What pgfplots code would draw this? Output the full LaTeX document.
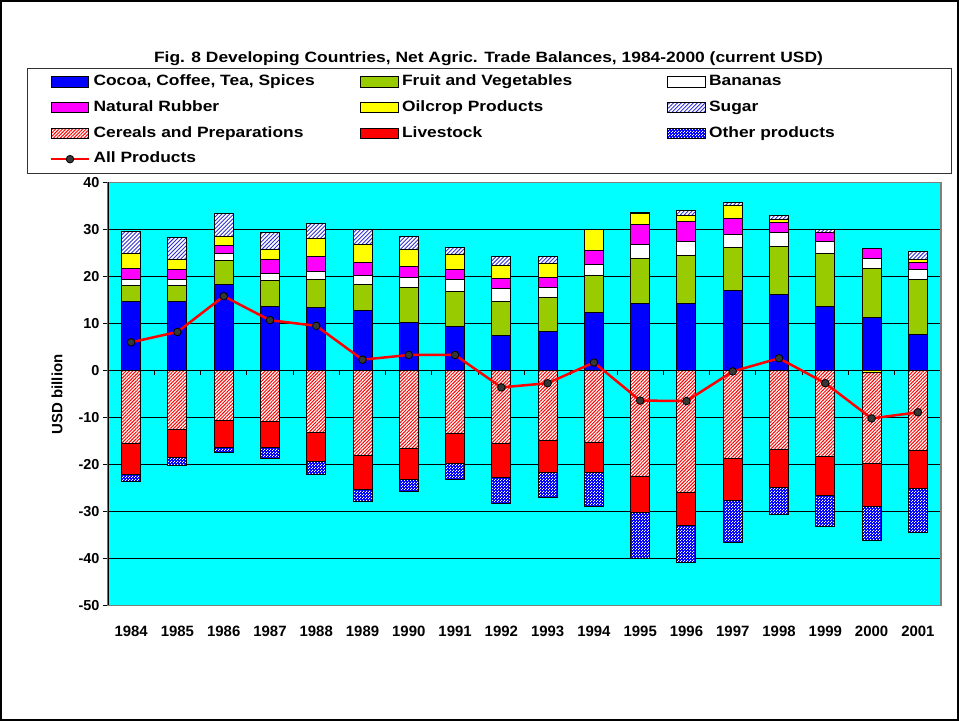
\documentclass[border=0pt]{standalone}
\usepackage{graphicx}
\usepackage{fontspec}
\setmainfont{Liberation Sans}
\usepackage{pgfplots}
\pgfplotsset{compat=1.18}
\usepackage{pgfplotstable}
\usetikzlibrary{patterns,patterns.meta}

\definecolor{cocoa}{RGB}{0,0,255}
\definecolor{fruit}{RGB}{153,204,0}
\definecolor{rubber}{RGB}{255,0,255}
\definecolor{oil}{RGB}{255,255,0}
\definecolor{live}{RGB}{255,0,0}
\definecolor{plotbg}{RGB}{0,255,255}
\definecolor{dotgray}{RGB}{55,55,55}
\definecolor{hatchblue}{RGB}{50,50,210}

\newcommand\lbl{\fontsize{15}{18}\selectfont\bfseries}
\newcommand\tl{\fontsize{14.5}{17}\selectfont\bfseries}
\newcommand\wide[1]{\scalebox{1.165}[1]{#1}}

% small white checks laid over blue for "Other products"
\pgfdeclarepatternformonly{finecheck}{\pgfqpoint{0bp}{0bp}}{\pgfqpoint{2.6bp}{2.6bp}}{\pgfqpoint{2.6bp}{2.6bp}}{%
  \pgfpathrectangle{\pgfqpoint{0bp}{0bp}}{\pgfqpoint{1.1bp}{1.1bp}}%
  \pgfpathrectangle{\pgfqpoint{1.3bp}{1.3bp}}{\pgfqpoint{1.1bp}{1.1bp}}%
  \pgfusepath{fill}}

% positive components, USD billion
\pgfplotstableread{
x cocoa fruit banana rubber oil sugar
0 14.6 3.4 1.3 2.4 3.2 4.7
1 14.6 3.4 1.3 2.2 2.1 4.8
2 18.3 5.0 1.6 1.8 1.9 4.8
3 13.7 5.5 1.5 3.0 2.1 3.6
4 13.5 5.8 1.7 3.2 3.8 3.2
5 12.7 5.6 1.9 2.8 3.8 3.1
6 10.2 7.5 2.1 2.3 3.7 2.8
7 9.4 7.4 2.5 2.2 3.1 1.6
8 7.5 7.1 2.8 2.1 2.9 1.9
9 8.3 7.3 2.1 2.1 2.9 1.6
10 12.4 7.9 2.3 3.0 4.3 0
11 14.3 9.6 2.9 4.3 2.2 0.4
12 14.3 10.2 2.9 4.4 1.2 1.0
13 17.1 9.1 2.7 3.4 2.7 0.8
14 16.1 10.3 2.9 2.2 0.7 0.8
15 13.7 11.2 2.5 2.0 0 0.7
16 11.2 10.5 2.2 2.0 0 0
17 7.7 11.6 2.2 1.5 0.6 1.7
}\pos

% negative components and the total
\pgfplotstableread{
x oilneg cereals livestock other all
0 0 -15.6 -6.6 -1.5 6.0
1 0 -12.6 -5.9 -1.8 8.2
2 0 -10.7 -5.6 -1.2 15.8
3 0 -10.9 -5.4 -2.5 10.7
4 0 -13.2 -6.2 -2.8 9.5
5 0 -18.1 -7.2 -2.6 2.3
6 0 -16.6 -6.5 -2.6 3.3
7 0 -13.4 -6.3 -3.4 3.3
8 0 -15.6 -7.2 -5.4 -3.6
9 0 -15.0 -6.6 -5.5 -2.7
10 0 -15.3 -6.4 -7.2 1.7
11 0 -22.5 -7.8 -9.7 -6.4
12 0 -26.0 -7.0 -7.9 -6.5
13 0 -18.8 -8.8 -9.0 -0.2
14 0 -16.9 -8.0 -5.8 2.6
15 0 -18.2 -8.4 -6.5 -2.7
16 -0.5 -19.3 -9.2 -7.2 -10.2
17 0 -17.1 -8.1 -9.2 -8.9
}\neg

\pgfplotsset{
  base/.style={scale only axis, width=833bp, height=423bp,
    xmin=-0.5, xmax=17.5, ymin=-50, ymax=40,
    at={(0,0)}, anchor=south west, enlargelimits=false},
  bar/.style={draw=black, line width=1bp},
  sugarp/.style={bar, fill=white, postaction={pattern={Lines[angle=45,distance=2.8bp,line width=0.9bp]}, pattern color=hatchblue}},
  cerealp/.style={bar, fill=white, postaction={pattern={Lines[angle=45,distance=2.4bp,line width=1bp]}, pattern color=red}},
  otherp/.style={bar, fill=blue, postaction={pattern=finecheck, pattern color=white}},
  boxleg/.style={legend image code/.code={\draw[##1] (0bp,-5.3bp) rectangle (37.5bp,5.3bp);}},
  lineleg/.style={legend image code/.code={\draw[mark repeat=2, mark phase=2, ##1] plot coordinates {(0bp,0bp) (18.75bp,0bp) (37.5bp,0bp)};}},
}

\begin{document}
\begin{tikzpicture}[x=1bp,y=1bp]
\useasboundingbox (-108,-115.5) rectangle (851,605.5);

\begin{axis}[base,
  axis background/.style={fill=plotbg},
  ybar stacked, bar width=19bp,
  axis line style={draw=gray, line width=1.5bp},
  ymajorgrids, grid style={black, line width=0.7bp},
  ytick={-50,-40,...,40}, ytick pos=left,
  xtick={0,...,17},
  xticklabels={1984,1985,1986,1987,1988,1989,1990,1991,1992,1993,1994,1995,1996,1997,1998,1999,2000,2001},
  xtick style={draw=none},
  ytick style={black, line width=1bp},
  tick align=outside, major tick length=5bp,
  ticklabel style={font=\tl},
  /pgf/number format/assume math mode=true,
  xticklabel style={font=\lbl, yshift=-12bp},
  ylabel={USD billion},
  every axis y label/.style={at={(axis description cs:-0.0612,0.499)}, rotate=90, anchor=center, font=\lbl},
]
\addplot[bar, fill=cocoa] table[x=x, y=cocoa] {\pos};
\addplot[bar, fill=fruit] table[x=x, y=fruit] {\pos};
\addplot[bar, fill=white] table[x=x, y=banana] {\pos};
\addplot[bar, fill=rubber] table[x=x, y=rubber] {\pos};
\addplot[bar, fill=oil] table[x=x, y=oil] {\pos};
\addplot[sugarp] table[x=x, y=sugar] {\pos};
\pgfplotsinvokeforeach{0,...,16}{
  \draw[black, line width=1bp] (axis cs:#1+0.5,0) -- ++(0pt,-5bp);
}
\draw[black, line width=1.2bp] (rel axis cs:0,0) -- (rel axis cs:0,1);
\end{axis}

\begin{axis}[base, hide axis, ybar stacked, bar width=19bp]
\addplot[bar, fill=oil] table[x=x, y=oilneg] {\neg};
\addplot[cerealp] table[x=x, y=cereals] {\neg};
\addplot[bar, fill=live] table[x=x, y=livestock] {\neg};
\addplot[otherp] table[x=x, y=other] {\neg};
\end{axis}

\begin{axis}[base, hide axis, boxleg,
  legend columns=3,
  legend style={at={(axis description cs:-0.0696,1.260)}, anchor=north west,
    draw=none, fill=none, inner sep=0pt, outer sep=0pt,
    font=\lbl, row sep=7.3bp,
    nodes={inner xsep=3.5bp, inner ysep=2bp, text height=11bp, text depth=3.5bp}},
  legend cell align=left,
]
\addlegendimage{bar, fill=cocoa}
\addlegendentry{\makebox[263bp][l]{\wide{Cocoa, Coffee, Tea, Spices}}}
\addlegendimage{bar, fill=fruit}
\addlegendentry{\makebox[261.5bp][l]{\wide{Fruit and Vegetables}}}
\addlegendimage{bar, fill=white}
\addlegendentry{\makebox[200bp][l]{\wide{Bananas}}}
\addlegendimage{bar, fill=rubber}
\addlegendentry{\wide{Natural Rubber}}
\addlegendimage{bar, fill=oil}
\addlegendentry{\wide{Oilcrop Products}}
\addlegendimage{sugarp}
\addlegendentry{\wide{Sugar}}
\addlegendimage{cerealp}
\addlegendentry{\wide{Cereals and Preparations}}
\addlegendimage{bar, fill=live}
\addlegendentry{\wide{Livestock}}
\addlegendimage{otherp}
\addlegendentry{\wide{Other products}}
\addplot[red, line width=2.5bp, mark=*, mark size=3.8bp,
  mark options={fill=dotgray, draw=black, line width=0.8bp}, lineleg]
  table[x=x, y=all] {\neg};
\addlegendentry{\wide{All Products}}
\end{axis}

\draw[line width=2bp] (-107,-114.5) rectangle (850,604.5);
\draw[line width=0.8bp, draw=black!80] (-81,432) rectangle (843,537);
\node[font=\lbl] at (380.5,547) {\wide{Fig. 8 Developing Countries, Net Agric. Trade Balances, 1984-2000 (current USD)}};
\end{tikzpicture}
\end{document}
